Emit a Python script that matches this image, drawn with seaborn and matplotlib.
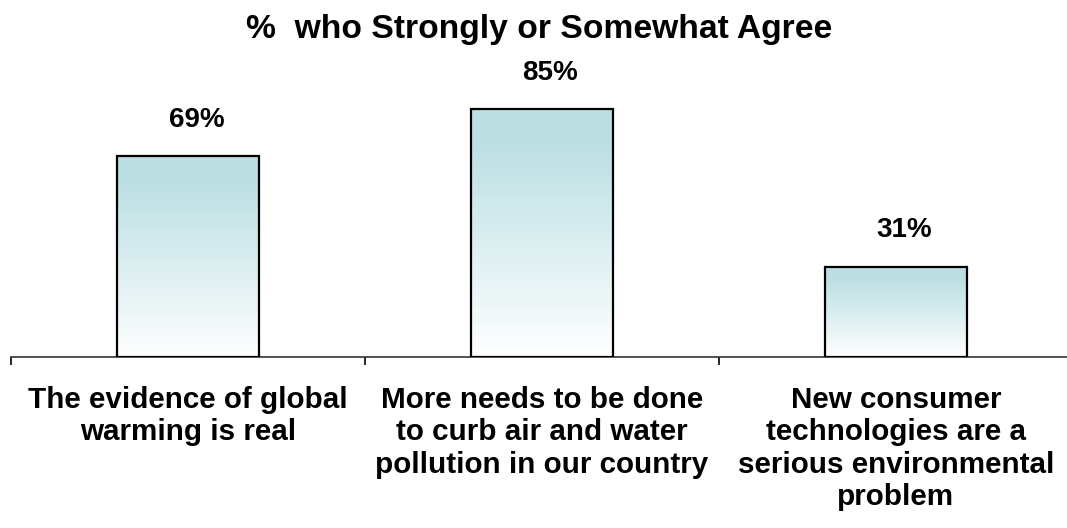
import numpy as np
import matplotlib
matplotlib.use("Agg")
import matplotlib.pyplot as plt
import pandas as pd
import seaborn as sns
from matplotlib.colors import LinearSegmentedColormap

# Survey statements and share of respondents who agree
categories = [
    "The evidence of global\nwarming is real",
    "More needs to be done\nto curb air and water\npollution in our country",
    "New consumer\ntechnologies are a\nserious environmental\nproblem",
]
values = [69, 85, 31]
value_labels = ["69%", "85%", "31%"]
title = "%  who Strongly or Somewhat Agree"

sns.set_theme(style="white")
plt.rcParams["font.family"] = ["Liberation Sans", "DejaVu Sans"]

W, H = 1067, 528
fig = plt.figure(figsize=(W / 100, H / 100), dpi=100)
ax = fig.add_axes([11 / W, (H - 357) / H, 1062 / W, 291.5 / H])

df = pd.DataFrame({"statement": categories, "pct": values})
sns.barplot(data=df, x="statement", y="pct", width=0.4, color="white", ax=ax)

# Vertical teal-to-white gradient inside each bar
cmap = LinearSegmentedColormap.from_list(
    "fade", [(0.0, "#bbdfe3"), (0.15, "#bde0e4"), (1.0, "#ffffff")]
)
grad = np.linspace(0, 1, 256).reshape(-1, 1)
for p in ax.patches:
    p.set_facecolor("none")
    p.set_edgecolor("black")
    p.set_linewidth(1.6)
    p.set_zorder(3)
    x0, w, h = p.get_x(), p.get_width(), p.get_height()
    ax.imshow(grad, extent=(x0, x0 + w, 0, h), aspect="auto", cmap=cmap,
              origin="upper", zorder=2, interpolation="bilinear")

# Value labels sit slightly right of the bar centre
for i, (v, lab) in enumerate(zip(values, value_labels)):
    ax.annotate(lab, (i, v), xytext=(6, 21), textcoords="offset points",
                ha="center", va="baseline", fontsize=20, fontweight="bold",
                color="black")

ax.set_xlim(-0.5, 2.5)
ax.set_ylim(0, 100)
ax.set_yticks([])
ax.set_xlabel("")
ax.set_ylabel("")
for s in ("left", "top", "right"):
    ax.spines[s].set_visible(False)
ax.spines["bottom"].set_color("#333333")
ax.spines["bottom"].set_linewidth(1.2)

ax.set_xticks(range(len(categories)))
ax.set_xticklabels(categories)
ax.set_xticks([-0.5, 0.5, 1.5, 2.5], minor=True)
ax.tick_params(axis="x", which="major", bottom=True, length=0, pad=21)
ax.tick_params(axis="x", which="minor", bottom=True, length=6, width=1.2,
               color="black", direction="out")
for lbl in ax.get_xticklabels():
    lbl.set_fontweight("bold")
    lbl.set_fontsize(21.3)
    lbl.set_linespacing(1.19)
    lbl.set_color("black")

fig.text(539 / W, 1 - 38 / H, title, ha="center", va="baseline",
         fontsize=24.2, fontweight="bold", color="black")

fig.savefig("out.png", dpi=100, facecolor="white")
